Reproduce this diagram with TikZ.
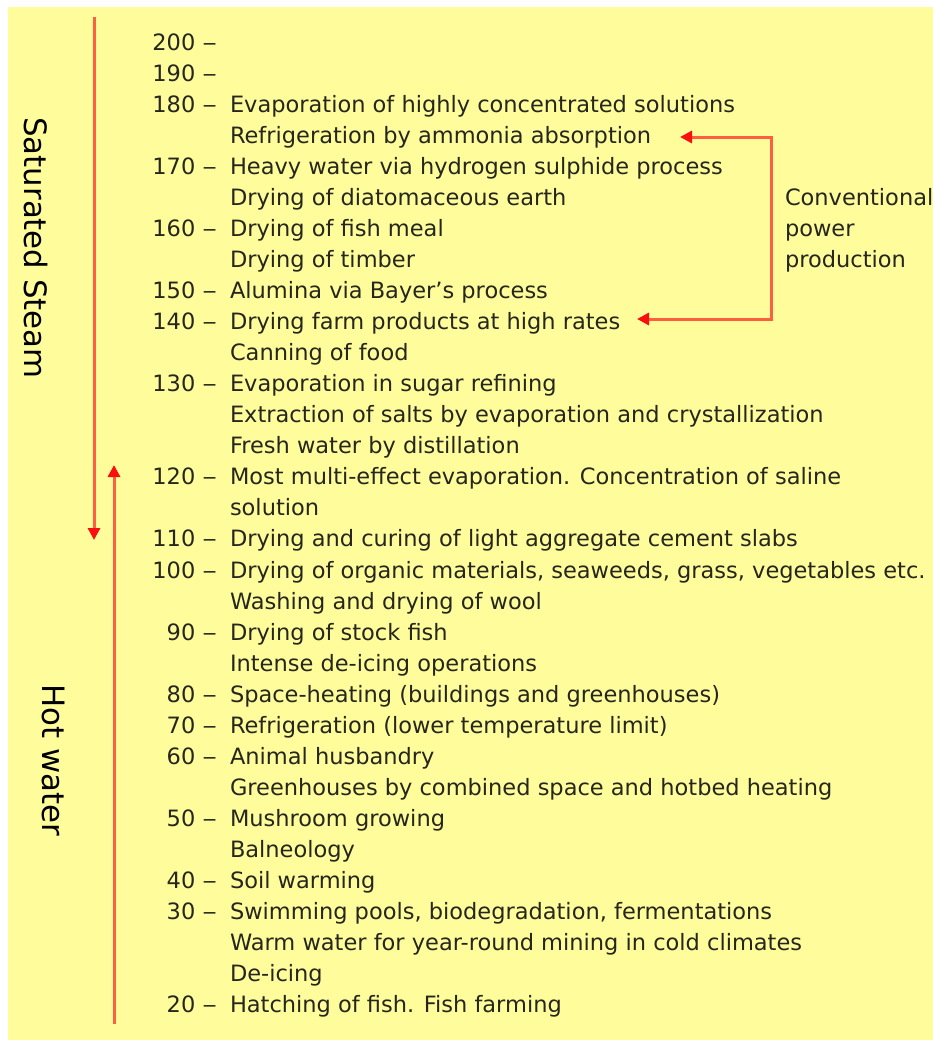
\documentclass[tikz,border=0pt]{standalone}
\usepackage{fontspec}
\setmainfont{DejaVu Sans}
\usetikzlibrary{arrows.meta}
\definecolor{bgyellow}{RGB}{255,253,155}
\definecolor{linered}{RGB}{255,95,65}
\definecolor{headred}{RGB}{250,15,15}
\definecolor{textc}{RGB}{38,38,28}
\newcommand\dsh{\hspace{7pt}\scalebox{1.3}[1]{–}}
\begin{document}
\begin{tikzpicture}[x=1pt,y=-1pt,
  declare function={yb(\i)=50+31.06*(\i-1);},
  every node/.style={inner sep=0pt,outer sep=0pt,text=textc,font=\fontsize{22.5pt}{31pt}\selectfont},
  num/.style={anchor=base east},
  txt/.style={anchor=base west},
  sidelabel/.style={rotate=-90,anchor=center,text=black,font=\fontsize{30.8pt}{36pt}\selectfont},
  redline/.style={draw=linered,line width=3pt,line join=miter},
  redtip/.style={-{Triangle[width=12pt,length=12pt,color=headred,fill=headred]}}
]
\useasboundingbox (0,0) rectangle (933,1042);
\fill[white] (0,0) rectangle (933,1042);
\fill[bgyellow] (8,7) rectangle (933,1040);

% side labels
\node[sidelabel] (steam) at (36,248) {Saturated Steam};
\node[sidelabel] (hotw) at (54,760) {Hot water};

% rows
\node[num] (n1) at (217,{yb(1)}) {200\dsh};
\node[num] (n2) at (217,{yb(2)}) {190\dsh};
\node[num] (n3) at (217,{yb(3)}) {180\dsh};
\node[txt] (t3) at (230,{yb(3)}) {Evaporation of highly concentrated solutions};
\node[txt] (t4) at (230,{yb(4)}) {Refrigeration by ammonia absorption};
\node[num] (n5) at (217,{yb(5)}) {170\dsh};
\node[txt] (t5) at (230,{yb(5)}) {Heavy water via hydrogen sulphide process};
\node[txt] (t6) at (230,{yb(6)}) {Drying of diatomaceous earth};
\node[num] (n7) at (217,{yb(7)}) {160\dsh};
\node[txt] (t7) at (230,{yb(7)}) {Drying of fish meal};
\node[txt] (t8) at (230,{yb(8)}) {Drying of timber};
\node[num] (n9) at (217,{yb(9)}) {150\dsh};
\node[txt] (t9) at (230,{yb(9)}) {Alumina via Bayer’s process};
\node[num] (n10) at (217,{yb(10)}) {140\dsh};
\node[txt] (t10) at (230,{yb(10)}) {Drying farm products at high rates};
\node[txt] (t11) at (230,{yb(11)}) {Canning of food};
\node[num] (n12) at (217,{yb(12)}) {130\dsh};
\node[txt] (t12) at (230,{yb(12)}) {Evaporation in sugar refining};
\node[txt] (t13) at (230,{yb(13)}) {Extraction of salts by evaporation and crystallization};
\node[txt] (t14) at (230,{yb(14)}) {Fresh water by distillation};
\node[num] (n15) at (217,{yb(15)}) {120\dsh};
\node[txt] (t15) at (230,{yb(15)}) {Most multi-effect evaporation. Concentration of saline};
\node[txt] (t16) at (230,{yb(16)}) {solution};
\node[num] (n17) at (217,{yb(17)}) {110\dsh};
\node[txt] (t17) at (230,{yb(17)}) {Drying and curing of light aggregate cement slabs};
\node[num] (n18) at (217,{yb(18)}) {100\dsh};
\node[txt] (t18) at (230,{yb(18)}) {Drying of organic materials, seaweeds, grass, vegetables etc.};
\node[txt] (t19) at (230,{yb(19)}) {Washing and drying of wool};
\node[num] (n20) at (217,{yb(20)}) {90\dsh};
\node[txt] (t20) at (230,{yb(20)}) {Drying of stock fish};
\node[txt] (t21) at (230,{yb(21)}) {Intense de-icing operations};
\node[num] (n22) at (217,{yb(22)}) {80\dsh};
\node[txt] (t22) at (230,{yb(22)}) {Space-heating (buildings and greenhouses)};
\node[num] (n23) at (217,{yb(23)}) {70\dsh};
\node[txt] (t23) at (230,{yb(23)}) {Refrigeration (lower temperature limit)};
\node[num] (n24) at (217,{yb(24)}) {60\dsh};
\node[txt] (t24) at (230,{yb(24)}) {Animal husbandry};
\node[txt] (t25) at (230,{yb(25)}) {Greenhouses by combined space and hotbed heating};
\node[num] (n26) at (217,{yb(26)}) {50\dsh};
\node[txt] (t26) at (230,{yb(26)}) {Mushroom growing};
\node[txt] (t27) at (230,{yb(27)}) {Balneology};
\node[num] (n28) at (217,{yb(28)}) {40\dsh};
\node[txt] (t28) at (230,{yb(28)}) {Soil warming};
\node[num] (n29) at (217,{yb(29)}) {30\dsh};
\node[txt] (t29) at (230,{yb(29)}) {Swimming pools, biodegradation, fermentations};
\node[txt] (t30) at (230,{yb(30)}) {Warm water for year-round mining in cold climates};
\node[txt] (t31) at (230,{yb(31)}) {De-icing};
\node[num] (n32) at (217,{yb(32)}) {20\dsh};
\node[txt] (t32) at (230,{yb(32)}) {Hatching of fish. Fish farming};

% conventional power production label
\node[txt] (c1) at (785,{yb(6)}) {Conventional};
\node[txt] (c2) at (785,{yb(7)}) {power};
\node[txt] (c3) at (785,{yb(8)}) {production};

% side arrows
\coordinate (sTop) at (94,17);
\coordinate (sBot) at (94,540);
\draw[redline,redtip] (sTop) -- (sBot);
\coordinate (hBot) at (114,1024);
\coordinate (hTop) at (114,465);
\draw[redline,redtip] (hBot) -- (hTop);

% bracket arrows
\coordinate (bA) at (680,137);
\coordinate (bB) at (771,137);
\coordinate (bC) at (771,319);
\coordinate (bD) at (637,319);
\draw[redline,{Triangle[width=12pt,length=12pt,color=headred,fill=headred]}-{Triangle[width=12pt,length=12pt,color=headred,fill=headred]}] (bA) -- (bB) -- (bC) -- (bD);
\end{tikzpicture}
\end{document}
